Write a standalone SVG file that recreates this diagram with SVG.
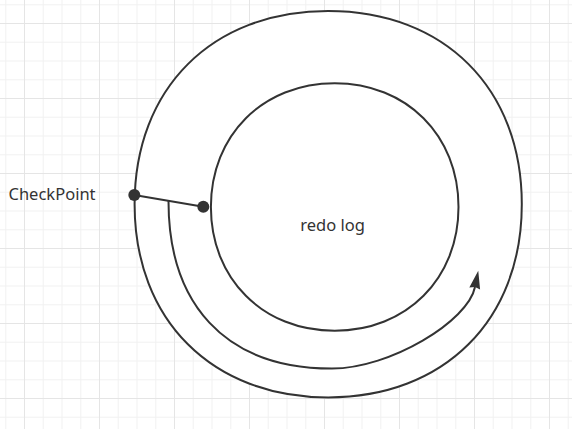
<svg xmlns="http://www.w3.org/2000/svg" width="572" height="429" viewBox="0 0 572 429">
  <style>
    .shape { fill: #ffffff; stroke: #333333; stroke-width: 2; }
    .conn { fill: none; stroke: #333333; stroke-width: 2; }
    .dot { fill: #333333; }
    .label { font-family: "Noto Sans", "Liberation Sans", sans-serif; font-size: 16.5px; fill: #333333; }
  </style>
  <defs>
    <pattern id="grid" patternUnits="userSpaceOnUse" x="24" y="23" width="75" height="75">
      <rect width="75" height="75" fill="#ffffff"/>
      <path d="M19.25 0V75M38 0V75M56.75 0V75M0 19.25H75M0 38H75M0 56.75H75" stroke="#f2f2f2" stroke-width="1"/>
      <path d="M0.5 0V75M0 0.5H75" stroke="#e5e5e5" stroke-width="1"/>
    </pattern>
    <marker id="arrow" markerUnits="userSpaceOnUse" viewBox="-2 -7 20 14" markerWidth="20" markerHeight="14" refX="0" refY="0" orient="auto">
      <path d="M-1.5,-5.5 L16.5,0 L-1.5,5.5 L0,0 Z" fill="#333333"/>
    </marker>
  </defs>
  <rect width="572" height="429" fill="url(#grid)"/>

  <g id="outer-ring">
    <path class="shape" d="M134.6,204.2 C134.6,88.2 212.2,11 328.2,11 C444.2,11 521.8,88.2 521.8,204.2 C521.8,320.2 444.2,397.4 328.2,397.4 C212.2,397.4 134.6,320.2 134.6,204.2 Z"/>
  </g>

  <g id="redo-log">
    <path class="shape" d="M210.9,207 C210.9,135.2 262.9,83.2 334.7,83.2 C406.5,83.2 458.5,135.2 458.5,207 C458.5,278.8 406.5,330.8 334.7,330.8 C262.9,330.8 210.9,278.8 210.9,207 Z"/>
    <text class="label" x="332.5" y="231" text-anchor="middle">redo log</text>
  </g>

  <g id="connectors">
    <line class="conn" x1="134.3" y1="195" x2="203.3" y2="206.7"/>
    <path class="conn" marker-end="url(#arrow)" d="M168.5,201 C168.5,302 223,368.5 332,368.5 C390,368.5 468.1,321.3 475,287"/>
  </g>

  <g id="checkpoint">
    <text class="label" x="8.5" y="200">CheckPoint</text>
    <circle class="dot" cx="134.3" cy="195" r="6"/>
    <circle class="dot" cx="203.3" cy="206.7" r="6"/>
  </g>
</svg>
